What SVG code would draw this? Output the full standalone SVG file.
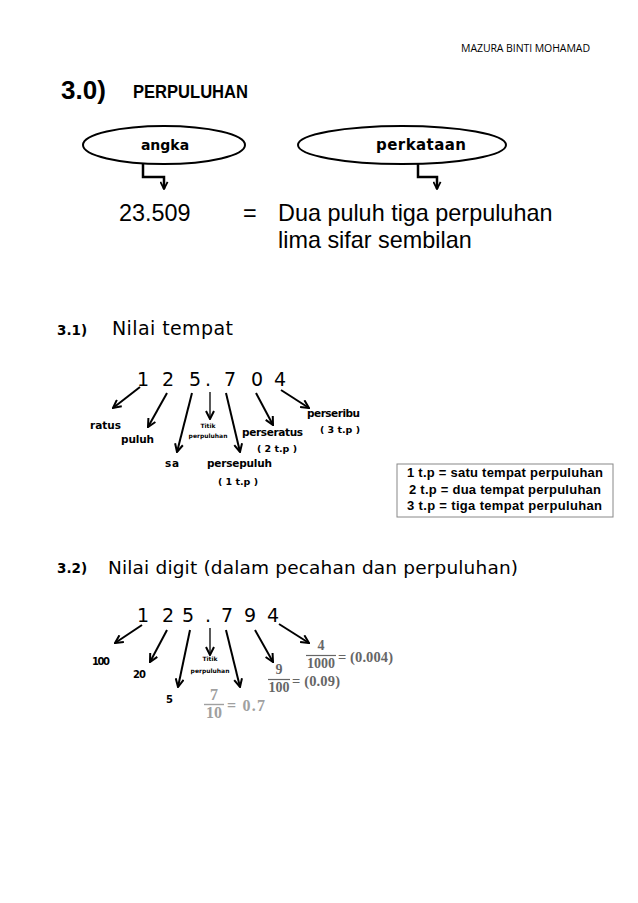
<svg xmlns="http://www.w3.org/2000/svg" width="638" height="903" viewBox="0 0 638 903">
<style>
.hdr{font-family:"Open Sans","Liberation Sans",sans-serif;font-size:10.5px;fill:#000}
.h1{font-family:"Liberation Sans",Arial,sans-serif;font-weight:bold;fill:#000}
.hand{font-family:"DejaVu Sans","Noto Sans",sans-serif;fill:#000}
.lbl{font-family:"DejaVu Sans","Noto Sans",sans-serif;font-weight:bold;fill:#000}
.ar{font-family:"Liberation Sans",Arial,sans-serif;fill:#000}
.frac{font-family:"Liberation Serif","DejaVu Serif",serif;font-weight:bold}
.ell{fill:#fff;stroke:#000;stroke-width:2}
.bent{fill:none;stroke:#000;stroke-width:2.5;marker-end:url(#ah2)}
.arr{fill:none;stroke:#000;stroke-width:2;marker-end:url(#ah)}
.arrt{fill:none;stroke:#000;stroke-width:1.3;marker-end:url(#ah)}
</style>
<defs>
<marker id="ah" viewBox="0 0 10 10" refX="9" refY="5" markerWidth="10" markerHeight="10" markerUnits="userSpaceOnUse" orient="auto">
<path d="M1,1 L9,5 L1,9" fill="none" stroke="#000" stroke-width="2"/>
</marker>
<marker id="ah2" viewBox="0 0 10 10" refX="9" refY="5" markerWidth="9" markerHeight="9" markerUnits="userSpaceOnUse" orient="auto">
<path d="M1,1 L9,5 L1,9" fill="none" stroke="#000" stroke-width="2"/>
</marker>
</defs>
<rect width="638" height="903" fill="#fff"/>

<text class="hdr" x="461" y="52" textLength="129">MAZURA BINTI MOHAMAD</text>
<text class="h1" x="61" y="99" font-size="26">3.0)</text>
<text class="h1" x="133" y="98" font-size="19" textLength="115" lengthAdjust="spacingAndGlyphs">PERPULUHAN</text>

<g id="connectors">
<polyline class="bent" points="143,164 143,177 164,177 164,189"/>
<polyline class="bent" points="418,164 418,177 437,177 437,189"/>
<line class="arr" x1="140" y1="387" x2="113" y2="408"/>
<line class="arr" x1="167" y1="393" x2="148" y2="427"/>
<line class="arr" x1="192" y1="393" x2="177" y2="452"/>
<line class="arrt" x1="210" y1="392" x2="210" y2="419"/>
<line class="arr" x1="226" y1="393" x2="240" y2="452"/>
<line class="arr" x1="256" y1="393" x2="273" y2="425"/>
<line class="arr" x1="281" y1="390" x2="309" y2="408"/>
<line class="arr" x1="142" y1="625" x2="115" y2="643"/>
<line class="arr" x1="167" y1="630" x2="150" y2="662"/>
<line class="arr" x1="190" y1="630" x2="178" y2="687"/>
<line class="arrt" x1="210" y1="628" x2="210" y2="655"/>
<line class="arr" x1="226" y1="630" x2="240" y2="687"/>
<line class="arr" x1="255" y1="630" x2="273" y2="662"/>
<line class="arr" x1="279" y1="624" x2="309" y2="643"/>
</g>

<g id="angka">
<ellipse class="ell" cx="164" cy="145" rx="81" ry="19"/>
<text class="lbl" x="165" y="150" font-size="14" text-anchor="middle">angka</text>
</g>
<g id="perkataan">
<ellipse class="ell" cx="402" cy="145" rx="104" ry="19"/>
<text class="lbl" x="421" y="150" font-size="15" text-anchor="middle" textLength="90">perkataan</text>
</g>

<g id="persamaan">
<text class="ar" x="119" y="221" font-size="23.4">23.509</text>
<text class="ar" x="243" y="221" font-size="23.4">=</text>
<text class="ar" x="278" y="221" font-size="23.4">Dua puluh tiga perpuluhan</text>
<text class="ar" x="278" y="248" font-size="23.4">lima sifar sembilan</text>
</g>

<g id="nilai-tempat">
<text class="lbl" x="57" y="335" font-size="13.5">3.1)</text>
<text class="hand" x="112" y="335" font-size="19" textLength="121">Nilai tempat</text>
<g class="hand" font-size="19" text-anchor="middle">
<text x="143" y="386">1</text><text x="168" y="386">2</text><text x="195" y="386">5</text><text x="208" y="386">.</text><text x="230" y="386">7</text><text x="257" y="386">0</text><text x="280" y="386">4</text>
</g>
<text class="lbl" x="90" y="429" font-size="10.5" textLength="31">ratus</text>
<text class="lbl" x="121" y="443" font-size="10.5" textLength="33">puluh</text>
<text class="lbl" x="165" y="467" font-size="10.5" textLength="14">sa</text>
<text class="lbl" x="208" y="428" font-size="6" text-anchor="middle">Titik</text>
<text class="lbl" x="208" y="438" font-size="6" text-anchor="middle">perpuluhan</text>
<text class="lbl" x="242" y="436" font-size="10.5" textLength="61">perseratus</text>
<text class="lbl" x="277" y="452" font-size="9.5" text-anchor="middle">( 2 t.p )</text>
<text class="lbl" x="207" y="467" font-size="10.5" textLength="65">persepuluh</text>
<text class="lbl" x="238" y="485" font-size="9.5" text-anchor="middle">( 1 t.p )</text>
<text class="lbl" x="307" y="417" font-size="10.5" textLength="53">perseribu</text>
<text class="lbl" x="340" y="433" font-size="9.5" text-anchor="middle">( 3 t.p )</text>
</g>

<g id="petunjuk">
<rect x="397" y="464" width="216" height="53" fill="#fff" stroke="#888" stroke-width="1"/>
<text class="ar" font-weight="bold" x="407" y="477" font-size="13" textLength="196">1 t.p = satu tempat perpuluhan</text>
<text class="ar" font-weight="bold" x="409" y="494" font-size="13" textLength="192">2 t.p = dua tempat perpuluhan</text>
<text class="ar" font-weight="bold" x="407" y="510" font-size="13" textLength="195">3 t.p = tiga tempat perpuluhan</text>
</g>

<g id="nilai-digit">
<text class="lbl" x="57" y="573" font-size="13.5">3.2)</text>
<text class="hand" x="108" y="574" font-size="18.5" textLength="410">Nilai digit  (dalam pecahan dan  perpuluhan)</text>
<g class="hand" font-size="19" text-anchor="middle">
<text x="143" y="622">1</text><text x="168" y="622">2</text><text x="188" y="622">5</text><text x="208" y="622">.</text><text x="227" y="622">7</text><text x="250" y="622">9</text><text x="273" y="622">4</text>
</g>
<text class="lbl" x="92" y="665" font-size="10" textLength="18">100</text>
<text class="lbl" x="133" y="678" font-size="10" textLength="13">20</text>
<text class="lbl" x="166" y="703" font-size="10">5</text>
<text class="lbl" x="210" y="661" font-size="6" text-anchor="middle">Titik</text>
<text class="lbl" x="210" y="673" font-size="6" text-anchor="middle">perpuluhan</text>
<g class="frac" fill="#a0a0a0" font-size="16">
<text x="214" y="700" text-anchor="middle">7</text>
<line x1="204" y1="704.5" x2="224" y2="704.5" stroke="#a0a0a0" stroke-width="1.4"/>
<text x="214" y="718" text-anchor="middle">10</text>
<text x="227" y="711" font-size="16" textLength="38">= 0.7</text>
</g>
<g class="frac" fill="#666" font-size="14">
<text x="279" y="674" text-anchor="middle">9</text>
<line x1="268" y1="679.5" x2="290" y2="679.5" stroke="#666" stroke-width="1.2"/>
<text x="279" y="692" text-anchor="middle">100</text>
<text x="292" y="686" font-size="14.5" textLength="48">= (0.09)</text>
</g>
<g class="frac" fill="#666" font-size="14">
<text x="321" y="650" text-anchor="middle">4</text>
<line x1="306" y1="655.5" x2="336" y2="655.5" stroke="#666" stroke-width="1.2"/>
<text x="321" y="668" text-anchor="middle">1000</text>
<text x="338" y="662" font-size="14.5" textLength="55">= (0.004)</text>
</g>
</g>
</svg>
